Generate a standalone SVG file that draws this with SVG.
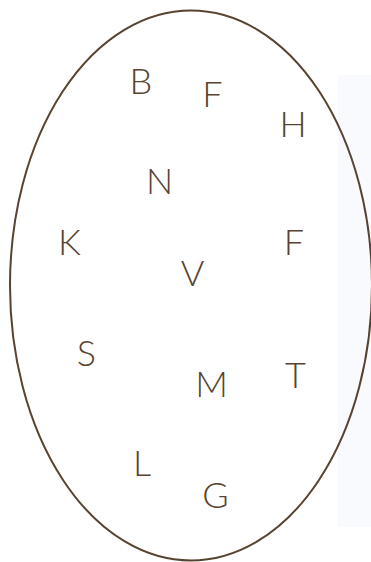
<svg xmlns="http://www.w3.org/2000/svg" width="371" height="562" viewBox="0 0 371 562">
<style>
.lbl{font-family:Lato,"Open Sans","Liberation Sans",sans-serif;font-weight:300;font-size:36px;fill:#57432f;text-anchor:middle}
</style>
<rect x="0" y="0" width="371" height="562" fill="#ffffff"/>
<rect id="panel" x="338" y="75" width="33" height="452" fill="#f8fafd"/>
<g id="set">
<ellipse cx="191" cy="285.5" rx="181" ry="275" fill="none" stroke="#57432f" stroke-width="2"/>
</g>
<g id="connectors"></g>
<g id="n-B"><text class="lbl" x="141" y="94">B</text></g>
<g id="n-F1"><text class="lbl" x="212.5" y="107">F</text></g>
<g id="n-H"><text class="lbl" x="293" y="137">H</text></g>
<g id="n-N"><text class="lbl" x="159.5" y="194">N</text></g>
<g id="n-K"><text class="lbl" x="69.5" y="255">K</text></g>
<g id="n-F2"><text class="lbl" x="294" y="255">F</text></g>
<g id="n-V"><text class="lbl" x="192.5" y="286">V</text></g>
<g id="n-S"><text class="lbl" x="86.5" y="366">S</text></g>
<g id="n-T"><text class="lbl" x="295.5" y="388">T</text></g>
<g id="n-M"><text class="lbl" x="211.5" y="397">M</text></g>
<g id="n-L"><text class="lbl" x="142" y="476">L</text></g>
<g id="n-G"><text class="lbl" x="215.5" y="508">G</text></g>
</svg>
